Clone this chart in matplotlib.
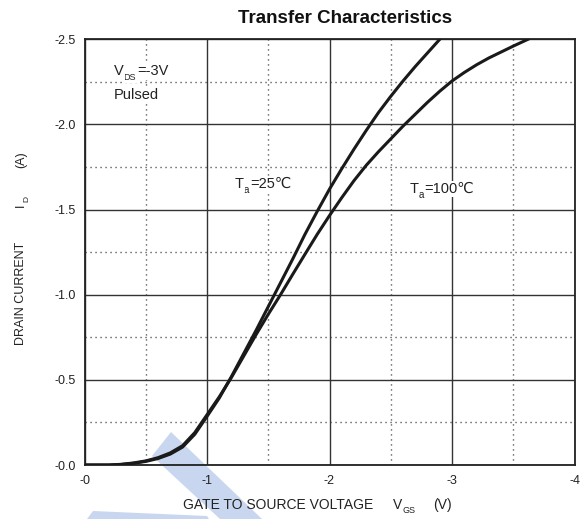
import matplotlib
matplotlib.use("Agg")
import matplotlib.pyplot as plt
from matplotlib.patches import Polygon
from matplotlib.transforms import offset_copy

plt.rcParams['font.family'] = ['Liberation Sans', 'DejaVu Sans']

# gate-source voltage (V) and drain current (A)
vgs_25 = [0.0, -0.2, -0.3, -0.4, -0.5, -0.6, -0.7, -0.8, -0.9, -1.0, -1.1, -1.2,
          -1.3, -1.4, -1.5, -1.6, -1.7, -1.8, -1.9, -2.0, -2.1, -2.2, -2.3, -2.4,
          -2.5, -2.6, -2.7, -2.8, -2.9]
id_25 = [0.0, 0.0, -0.003, -0.01, -0.021, -0.038, -0.064, -0.105, -0.18, -0.285,
         -0.393, -0.52, -0.655, -0.79, -0.93, -1.07, -1.21, -1.355, -1.49, -1.62,
         -1.74, -1.855, -1.965, -2.07, -2.165, -2.255, -2.34, -2.42, -2.5]

vgs_100 = [0.0, -0.2, -0.3, -0.4, -0.5, -0.6, -0.7, -0.8, -0.9, -1.0, -1.1, -1.2,
           -1.3, -1.4, -1.5, -1.6, -1.7, -1.8, -1.9, -2.0, -2.1, -2.2, -2.3, -2.4,
           -2.5, -2.6, -2.7, -2.8, -2.9, -3.0, -3.1, -3.2, -3.3, -3.4, -3.5, -3.62]
id_100 = [0.0, 0.0, -0.004, -0.012, -0.024, -0.043, -0.071, -0.113, -0.19, -0.295,
          -0.4, -0.515, -0.64, -0.765, -0.885, -1.0, -1.12, -1.238, -1.355, -1.465,
          -1.57, -1.67, -1.76, -1.84, -1.915, -1.99, -2.06, -2.13, -2.195, -2.255,
          -2.305, -2.35, -2.39, -2.425, -2.46, -2.5]

x_ticks = [0, -1, -2, -3, -4]
x_ticklabels = ['-0', '-1', '-2', '-3', '-4']
y_ticks = [0, -0.5, -1.0, -1.5, -2.0, -2.5]
y_ticklabels = ['-0.0', '-0.5', '-1.0', '-1.5', '-2.0', '-2.5']

W, H = 582, 519
INK = '#222222'
fig = plt.figure(figsize=(W / 100, H / 100), dpi=100)
ax = fig.add_axes([84.5 / W, 1 - 465 / H, 490 / W, 425.7 / H])
ax.set_facecolor('none')
renderer = fig.canvas.get_renderer()


def px(x, y):
    return x / W, 1 - y / H


def chain(x, y, pieces, transform, rotation=0, bg=False):
    # draws text pieces one after another: (text, size, drop in px, gap after in px)
    adv = 0.0
    for i, (s, size, drop, gap) in enumerate(pieces):
        if rotation == 0:
            tr = offset_copy(transform, fig=fig, x=adv, y=-drop, units='dots')
        else:
            tr = offset_copy(transform, fig=fig, x=drop, y=adv, units='dots')
        # earlier pieces on top so a white box never hides a subscript
        t = fig.text(x, y, s, fontsize=size, color=INK, transform=tr,
                     rotation=rotation, rotation_mode='anchor',
                     ha='left', va='baseline', zorder=5 - 0.1 * i)
        if bg:
            t.set_bbox(dict(facecolor='white', edgecolor='none', pad=0.8))
        bb = t.get_window_extent(renderer)
        adv += (bb.width if rotation == 0 else bb.height) + gap


# light blue watermark fragments at the bottom
wm = '#c8d7ef'
for pts in ([(171, 432), (152, 456), (220, 519), (262, 519)],
            [(87, 519), (93, 511), (207, 516), (209, 519)]):
    fig.patches.append(Polygon([px(x, y) for x, y in pts], closed=True,
                               transform=fig.transFigure, facecolor=wm,
                               edgecolor='none', zorder=-1))

ax.plot(vgs_25, id_25, color='#1a1a1a', lw=2.2, zorder=3)
ax.plot(vgs_100, id_100, color='#1a1a1a', lw=2.2, zorder=3)

ax.set_xlim(0, -4)
ax.set_ylim(0, -2.5)
ax.set_xticks(x_ticks)
ax.set_xticklabels(x_ticklabels)
ax.set_yticks(y_ticks)
ax.set_yticklabels(y_ticklabels)
ax.set_xticks([-0.5, -1.5, -2.5, -3.5], minor=True)
ax.set_yticks([-0.25, -0.75, -1.25, -1.75, -2.25], minor=True)
ax.tick_params(which='both', length=0, labelsize=9, colors=INK)
ax.tick_params(axis='x', pad=7)
ax.tick_params(axis='y', pad=6)
ax.grid(which='major', color='#333333', lw=1.0, ls='-')
ax.grid(which='minor', color='#333333', lw=1.0, ls=(0, (0.8, 2.8)))
for s in ax.spines.values():
    s.set_linewidth(1.3)
    s.set_color(INK)

chain(-0.24, -2.288, [('V', 10.5, 0, 0), ('DS', 6.5, 5, 1), ('=-3V', 10.5, 0, 0)],
      ax.transData, bg=True)
chain(-0.24, -2.15, [('Pulsed', 10.5, 0, 0)], ax.transData, bg=True)
chain(-1.229, -1.628, [('T', 10.5, 0, 0), ('a', 7, 5, 1), ('=25℃', 10.5, 0, 0)],
      ax.transData, bg=True)
chain(-2.651, -1.598, [('T', 10.5, 0, 0), ('a', 7, 5, 1), ('=100℃', 10.5, 0, 0)],
      ax.transData, bg=True)

fig.text(*px(345, 22.7), 'Transfer Characteristics', ha='center', va='baseline',
         fontsize=13.5, fontweight='bold', color='#111111')
chain(*px(183, 509), [('GATE TO SOURCE VOLTAGE', 10, 0, 20), ('V', 10, 0, 0),
                      ('GS', 6.5, 4, 18), ('(V)', 10, 0, 0)], fig.transFigure)
chain(*px(24, 345), [('DRAIN CURRENT', 9, 0, 35), ('I', 9, 0, 1),
                     ('D', 6, 4, 28), ('(A)', 9, 0, 0)], fig.transFigure, rotation=90)

fig.savefig('out.png', dpi=100)
